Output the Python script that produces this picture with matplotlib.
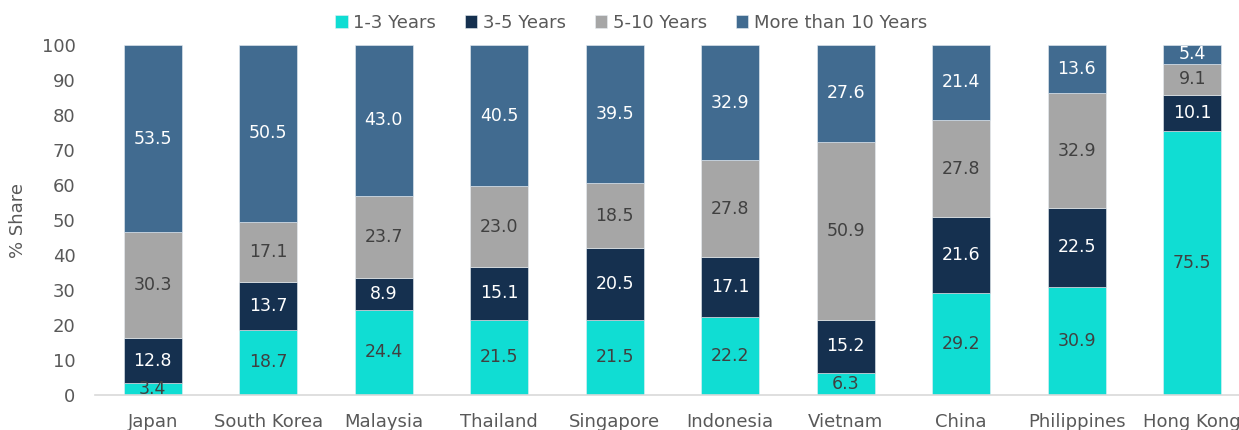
import numpy as np
import matplotlib
matplotlib.use('Agg')
import matplotlib.pyplot as plt

plt.rcParams['font.family'] = 'DejaVu Sans'

countries = ['Japan', 'South Korea', 'Malaysia', 'Thailand', 'Singapore',
             'Indonesia', 'Vietnam', 'China', 'Philippines', 'Hong Kong']
y1_3 = [3.4, 18.7, 24.4, 21.5, 21.5, 22.2, 6.3, 29.2, 30.9, 75.5]
y3_5 = [12.8, 13.7, 8.9, 15.1, 20.5, 17.1, 15.2, 21.6, 22.5, 10.1]
y5_10 = [30.3, 17.1, 23.7, 23.0, 18.5, 27.8, 50.9, 27.8, 32.9, 9.1]
y10p = [53.5, 50.5, 43.0, 40.5, 39.5, 32.9, 27.6, 21.4, 13.6, 5.4]

series = [('1-3 Years', y1_3, '#10ddd3', '#404040'),
          ('3-5 Years', y3_5, '#15304f', 'white'),
          ('5-10 Years', y5_10, '#a6a6a6', '#404040'),
          ('More than 10 Years', y10p, '#416b90', 'white')]

fig = plt.figure(figsize=(12.39, 4.30), dpi=100)
ax = fig.add_axes([95 / 1239, 35 / 430, 1155 / 1239, 350 / 430])

x = np.arange(len(countries))
bottom = np.zeros(len(countries))
for name, vals, col, tcol in series:
    vals = np.array(vals)
    ax.bar(x, vals, 0.5, bottom=bottom, color=col, label=name,
           edgecolor='#e8eef3', linewidth=0.4)
    for xi, b, v in zip(x, bottom, vals):
        ax.text(xi, b + v / 2, f'{v:.1f}', ha='center', va='center',
                fontsize=12.5, color=tcol)
    bottom += vals

ax.set_xlim(-0.5, 9.5)
ax.set_ylim(0, 100)
ax.set_yticks(range(0, 101, 10))
ax.set_xticks(x)
ax.set_xticklabels(countries)
ax.tick_params(axis='both', length=0, labelsize=13, colors='#595959')
ax.tick_params(axis='x', pad=13)
ax.tick_params(axis='y', pad=14)
for s in ['top', 'right', 'left']:
    ax.spines[s].set_visible(False)
ax.spines['bottom'].set_color('#d9d9d9')
ax.spines['bottom'].set_linewidth(1.2)

fig.text(18 / 1239, 1 - 220 / 430, '% Share', rotation=90, ha='center',
         va='center', fontsize=13, color='#595959')

fig.legend(loc='center', bbox_to_anchor=(631 / 1239, 1 - 23 / 430), ncol=4,
           frameon=False, fontsize=13, handlelength=0.7, handleheight=0.7,
           handletextpad=0.3, columnspacing=1.6, labelcolor='#595959')

fig.savefig('out.png', dpi=100)
